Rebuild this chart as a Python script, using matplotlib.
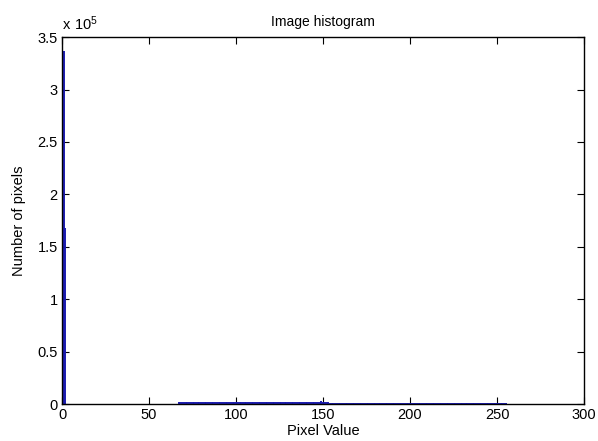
import matplotlib
matplotlib.use("Agg")
import matplotlib.pyplot as plt
import numpy as np
from matplotlib.ticker import FuncFormatter

plt.rcParams['font.family'] = ['Liberation Sans', 'DejaVu Sans']

pixel_values = list(range(256))
counts = [
    0, 337000, 168000, 0, 0, 0, 0, 0, 0, 0, 0, 0, 0, 0, 0, 0,
    0, 0, 0, 0, 0, 0, 0, 0, 0, 0, 0, 0, 0, 0, 0, 0,
    0, 0, 0, 0, 0, 0, 0, 0, 0, 0, 0, 0, 0, 0, 0, 0,
    0, 0, 0, 0, 0, 0, 0, 0, 0, 0, 0, 0, 0, 0, 0, 0,
    0, 0, 0, 1500, 1550, 1520, 1560, 1540, 1580, 1560, 1530, 1550, 1570, 1560, 1540, 1560,
    1580, 1570, 1560, 1530, 1560, 1580, 1570, 1560, 1540, 1570, 1590, 1580, 1560, 1580, 1600, 1620,
    1660, 1700, 1800, 1950, 2200, 1900, 1750, 1650, 1600, 1580, 1560, 1570, 1550, 1530, 1560, 1540,
    1520, 1550, 1500, 1520, 1540, 1500, 1520, 1490, 1530, 1510, 1520, 1500, 1480, 1510, 1500, 1520,
    1500, 1480, 1510, 1490, 1500, 1470, 1500, 1480, 1510, 1500, 1490, 1500, 1530, 1560, 1600, 1650,
    1700, 1800, 1950, 2100, 2300, 2500, 2300, 2100, 1800, 1500, 1200, 950, 900, 880, 890, 880,
    890, 870, 880, 900, 870, 880, 860, 890, 880, 870, 890, 880, 870, 890, 880, 870,
    880, 890, 870, 880, 890, 870, 880, 900, 880, 870, 890, 880, 870, 880, 890, 880,
    870, 890, 880, 870, 880, 900, 890, 880, 870, 880, 890, 870, 880, 890, 880, 870,
    880, 890, 880, 870, 890, 880, 870, 900, 880, 890, 870, 880, 890, 880, 870, 890,
    880, 870, 880, 890, 890, 870, 880, 900, 880, 870, 890, 880, 870, 890, 880, 890,
    880, 870, 890, 880, 870, 890, 880, 900, 880, 870, 890, 880, 890, 870, 880, 880,
]

x_ticks = [0, 50, 100, 150, 200, 250, 300]
y_ticks = [0, 50000, 100000, 150000, 200000, 250000, 300000, 350000]

fig = plt.figure(figsize=(5.98, 4.41), dpi=100)
ax = fig.add_axes([0.1037, 0.0839, 0.873, 0.832])

ax.vlines(pixel_values, 0, counts, color='#1a1ab0', linewidth=1.4)

ax.set_xlim(0, 300)
ax.set_ylim(0, 350000)
ax.set_xticks(x_ticks)
ax.set_yticks(y_ticks)
ax.yaxis.set_major_formatter(FuncFormatter(lambda v, p: ('%g' % (v / 1e5))))
ax.tick_params(direction='in', top=True, right=True, length=5, width=0.8,
               labelsize=10.5, pad=3)
for s in ax.spines.values():
    s.set_linewidth(1.0)
    s.set_color('black')

ax.set_title('Image histogram', fontsize=10, pad=8)
ax.set_xlabel('Pixel Value', fontsize=10.5, labelpad=1)
ax.set_ylabel('Number of pixels', fontsize=10.5, labelpad=8)
ax.text(0.0, 1.012, r'$\mathregular{x\ 10^{5}}$', transform=ax.transAxes, fontsize=10.5,
        ha='left', va='bottom')

fig.savefig('out.png', dpi=100)
